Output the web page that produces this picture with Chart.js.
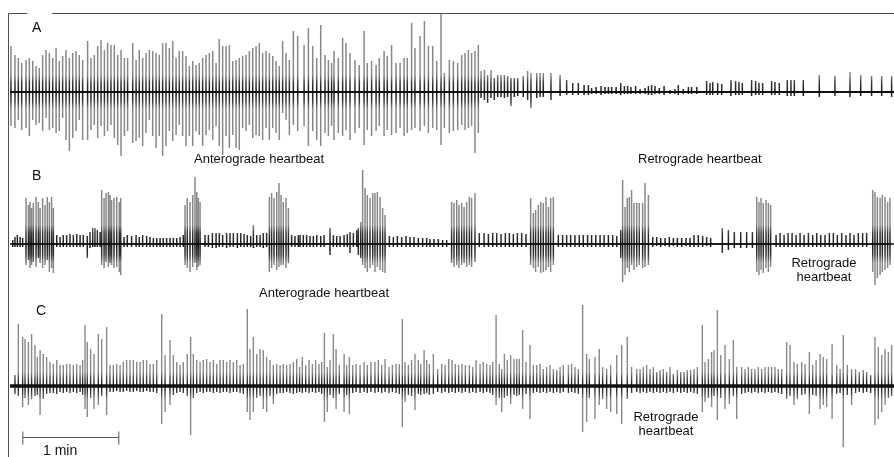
<!DOCTYPE html>
<html>
<head>
<meta charset="utf-8">
<script src="https://cdn.jsdelivr.net/npm/chart.js@4/dist/chart.umd.min.js"></script>
<style>
html, body { margin: 0; padding: 0; background: #fff; }
canvas { display: block; }
</style>
</head>
<body>
<canvas id="myChart" width="894" height="457"></canvas>
<script>
// spike times (s) and upward / downward amplitudes (arbitrary units) for each recording
let tA = [0.6,3.1,5.2,7.3,10.0,12.1,14.2,16.3,18.3,20.4,22.5,24.6,26.7,28.8,30.8,32.9,35.0,37.1,39.2,41.3,
  43.3,45.4,48.5,50.6,52.7,54.8,56.9,59.0,61.0,63.1,65.2,67.3,69.4,71.5,73.5,76.7,78.8,80.8,82.9,85.0,
  87.1,89.2,91.3,93.3,95.4,97.5,99.6,101.7,103.8,105.8,107.9,110.0,112.1,114.2,116.3,118.3,120.4,122.5,124.6,126.7,
  128.8,130.8,132.9,135.0,137.1,139.2,141.3,143.3,145.4,147.5,149.6,151.7,153.8,155.8,157.9,160.0,162.1,164.2,166.3,168.3,
  170.4,172.5,174.6,177.1,179.8,
  183.8,186.5,189.2,191.7,194.2,196.9,199.0,201.0,202.5,205.2,207.9,210.0,212.5,215.6,218.3,221.3,223.3,226.0,228.8,230.8,
  233.8,235.8,238.5,241.3,243.8,246.3,248.3,251.0,253.1,256.3,259.0,261.5,264.2,266.7,269.4,271.5,274.6,277.1,279.8,282.3,
  284.4,286.5,288.5,290.6,292.7,
  294.4,296.5,298.5,300.6,302.7,304.8,306.9,309.0,311.0,313.1,315.2,317.3,320.8,323.5,325.6,329.2,331.3,333.3,338.1,343.8,
  347.9,351.7,355.2,358.8,361.5,
  363.5,366.3,369.4,371.9,374.0,376.0,378.8,381.7,384.0,386.0,388.1,391.0,393.8,396.9,399.0,401.0,403.1,405.8,408.8,412.5,
  415.6,417.7,420.8,424.0,426.0,429.2,435.4,437.5,439.2,442.3,444.8,450.6,453.5,455.6,457.7,463.5,466.0,468.1,470.4,476.0,
  478.1,480.8,485.8,488.1,490.2,495.8,505.8,515.6,525.0,531.7,538.5,544.8,551.0];
let upA = [46,37,34,29,32,34,31,26,24,37,42,39,34,44,31,36,42,34,39,41,
  37,32,51,34,37,46,52,42,49,47,47,37,42,34,34,49,32,42,34,39,
  42,41,39,37,49,49,44,51,34,41,41,36,26,31,27,29,34,37,39,41,
  29,53,46,46,47,31,32,34,36,37,41,44,46,49,39,41,39,36,31,26,
  51,39,32,61,56,
  47,64,46,34,67,37,32,29,41,34,54,49,39,32,27,61,29,31,27,34,
  41,36,47,29,29,34,34,69,44,56,71,46,46,31,79,19,32,31,29,37,
  39,42,39,41,47,
  21,22,17,22,14,17,17,17,16,14,14,14,16,21,19,19,19,19,19,17,
  12,9,9,7,7,
  4,5,6,5,5,5,5,9,6,6,5,6,3,4,6,7,6,4,6,2,
  3,7,3,5,5,5,11,9,10,9,8,12,11,10,9,12,11,9,9,11,
  10,9,12,12,12,12,17,16,20,17,16,16,16];
let dnA = [34,36,28,38,36,44,28,33,31,39,26,38,36,41,39,26,48,59,46,39,
  28,48,48,38,33,46,34,44,39,33,46,53,64,44,39,51,49,46,54,41,
  28,44,56,44,64,54,39,49,43,33,44,54,44,54,39,43,54,43,38,48,
  34,54,63,44,56,43,56,58,36,39,33,46,43,44,48,36,48,36,41,48,
  21,28,43,33,39,
  34,54,39,48,54,41,44,34,48,41,44,38,48,41,36,53,38,44,39,34,
  44,38,43,41,36,44,41,38,36,39,34,41,36,38,53,36,41,39,38,33,
  38,36,34,61,41,
  6,8,11,6,8,5,5,6,5,14,5,4,5,8,16,6,5,5,8,4,
  3,3,3,3,3,
  2,2,3,2,2,2,2,3,2,2,2,2,2,2,3,3,2,2,3,2,
  2,3,2,2,2,2,3,3,3,3,3,4,3,3,3,4,3,3,3,3,
  3,3,4,4,4,4,5,4,5,4,4,4,5];

let tB = [1.7,3.1,4.6,6.3,7.9,
  10.0,11.5,12.5,13.5,14.6,16.3,17.7,18.8,20.4,21.9,23.3,24.6,26.0,27.1,
  29.2,31.3,33.3,35.4,37.5,39.6,41.7,43.8,45.8,48.3,50.0,51.7,53.1,54.6,56.3,
  57.3,58.8,60.0,61.5,62.5,63.5,65.0,66.7,68.3,69.2,
  71.3,73.3,76.0,78.8,80.8,82.9,85.4,87.5,89.6,91.7,93.8,95.8,97.9,100.0,102.1,104.2,106.3,108.3,
  109.4,110.8,112.5,114.2,115.6,116.7,117.7,118.8,
  121.9,124.0,126.5,128.8,130.8,132.9,135.4,137.5,139.6,142.1,144.2,146.3,148.3,150.4,152.1,154.2,156.3,158.3,160.4,
  162.1,163.5,165.0,166.7,168.1,169.4,170.8,172.5,174.0,
  176.0,178.1,180.2,
  181.3,183.3,185.4,187.5,189.6,191.7,194.2,196.3,200.0,202.1,204.2,206.3,208.8,210.8,212.5,214.6,216.7,
  217.7,219.2,220.4,221.9,223.3,225.0,226.7,228.1,229.6,231.3,232.9,234.4,
  237.1,239.6,242.1,244.8,247.5,250.0,252.5,255.2,257.9,260.4,262.5,265.0,267.7,270.4,272.9,
  276.0,277.5,279.2,280.6,282.3,283.8,285.4,287.1,288.5,290.6,
  293.3,296.3,299.0,301.7,304.2,306.9,309.6,312.1,314.6,317.1,319.8,322.5,
  325.4,327.1,328.5,330.2,331.7,333.3,335.0,336.5,337.9,339.6,
  342.7,345.4,347.9,350.4,353.1,355.8,358.3,361.0,
  363.5,366.1,368.8,371.3,374.0,376.7,379.2,
  381.7,382.9,384.4,385.8,387.1,388.5,390.0,391.7,393.3,395.4,396.9,399.0,
  401.7,404.2,406.7,409.4,412.1,414.6,417.1,419.8,422.5,425.0,427.5,430.2,432.9,435.4,437.9,
  445.2,449.0,452.7,456.7,460.4,464.0,
  466.7,468.1,469.4,470.8,472.5,474.0,475.4,
  478.8,481.3,483.8,486.3,488.8,491.3,493.8,496.3,499.0,501.7,504.2,506.7,509.4,512.1,514.6,517.1,519.8,522.5,525.0,527.5,530.2,532.9,535.4,
  539.2,540.6,542.1,543.8,545.2,546.9,548.5,550.0];
let upB = [4,7,9,7,6,
  46,39,42,36,41,47,42,36,46,39,47,42,47,36,
  9,7,9,9,10,9,10,9,9,8,12,16,16,14,12,
  54,46,51,52,49,44,46,47,42,46,
  7,9,8,9,7,9,8,7,6,6,6,6,6,6,6,6,7,9,
  39,46,42,49,67,52,46,42,
  9,9,11,11,11,9,11,11,11,11,11,10,9,8,19,9,9,11,11,
  47,51,46,52,61,49,42,46,36,
  9,8,9,
  9,9,9,8,8,9,8,9,16,9,8,8,9,10,12,11,14,
  16,22,74,56,49,46,51,51,52,47,36,29,
  8,7,8,7,8,7,7,6,6,6,5,5,5,4,4,
  42,41,44,39,41,37,42,47,46,51,
  11,11,10,11,11,10,11,11,10,11,11,10,
  46,31,34,39,42,41,47,37,46,47,
  9,9,9,9,9,9,9,9,
  9,9,9,9,9,9,8,
  14,64,37,46,47,54,41,41,41,41,61,49,
  7,7,6,6,7,6,6,6,6,6,9,9,8,7,6,
  16,14,12,12,12,12,
  47,42,46,41,44,41,39,
  9,11,9,11,11,9,11,9,11,9,11,9,9,11,11,9,11,9,11,9,11,11,11,
  54,52,47,46,49,47,42,46];
let dnB = [3,3,3,3,3,
  21,16,24,21,18,23,14,19,24,21,16,28,24,29,
  3,3,3,3,3,3,3,3,3,14,4,3,3,3,3,
  21,24,18,23,19,21,24,23,28,31,
  3,3,3,3,3,3,3,3,3,3,3,3,3,3,3,3,3,3,
  21,24,28,23,19,26,23,21,
  3,3,4,4,3,3,4,3,3,4,3,3,3,3,4,3,3,4,3,
  28,24,21,26,23,21,21,24,19,
  3,3,3,
  3,3,3,3,3,3,3,3,11,3,3,3,3,3,9,3,3,
  11,14,21,24,28,24,21,28,23,26,28,29,
  3,3,3,3,3,3,3,3,3,3,3,3,3,3,3,
  19,23,21,24,21,19,23,21,23,18,
  3,3,3,3,3,3,3,3,3,3,3,3,
  21,24,28,23,29,28,26,23,28,21,
  3,3,3,3,3,3,3,3,
  3,3,3,3,3,3,3,
  14,38,31,24,28,21,26,23,21,24,23,21,
  3,2,3,2,3,2,3,3,2,3,3,3,3,2,3,
  9,6,4,4,4,4,
  28,31,26,29,24,28,23,
  3,3,3,3,3,3,3,3,3,3,3,3,3,3,3,3,3,3,3,3,3,3,3,
  28,41,34,31,28,26,24,21];

let tC = [3.1,5.2,7.9,9.4,11.5,13.5,15.6,17.1,18.8,20.8,22.9,25.0,27.1,29.2,31.3,33.3,35.4,37.5,39.6,41.7,
  43.8,45.4,46.9,48.3,50.4,52.5,55.2,57.3,60.4,62.5,64.6,66.7,68.8,70.8,72.9,75.0,77.1,79.2,81.3,83.3,
  85.4,87.5,89.6,91.7,94.8,96.9,100.0,102.1,104.2,106.3,108.3,110.8,112.9,114.6,116.7,118.8,120.8,122.9,125.0,127.1,
  129.2,131.3,133.3,135.4,137.5,139.6,141.7,143.8,145.8,148.3,150.0,152.1,154.2,156.3,158.3,160.4,162.5,164.6,166.7,168.8,
  170.8,172.9,175.0,177.1,179.2,
  181.0,
  182.7,184.8,186.9,189.0,191.0,193.1,194.8,196.5,198.3,200.0,202.1,203.8,205.8,208.8,210.4,212.1,214.2,216.3,218.8,221.3,
  223.3,225.6,228.1,230.2,232.3,234.4,236.9,239.0,241.3,243.3,245.2,246.9,249.0,251.0,253.1,255.2,256.7,258.8,260.4,262.1,
  264.6,267.3,269.8,271.9,274.2,276.3,278.3,280.4,282.5,284.6,287.1,289.2,291.3,293.8,295.8,297.9,300.0,301.7,303.8,305.8,
  307.3,309.0,310.8,312.9,315.0,316.7,318.3,320.4,322.5,325.0,327.1,329.2,331.3,333.3,335.4,337.5,339.6,341.7,343.8,345.8,
  349.0,351.0,353.1,355.2,357.9,360.4,362.1,
  365.6,368.3,370.4,372.9,375.4,379.2,382.3,385.8,388.5,391.7,393.8,395.8,397.9,400.0,402.1,404.2,406.3,408.3,410.4,412.5,
  414.6,417.1,419.2,421.3,423.3,425.4,427.5,429.6,432.7,434.4,436.5,438.5,440.0,442.1,444.2,446.9,449.6,452.1,454.2,457.3,
  459.4,461.5,463.5,465.6,467.7,469.8,471.9,474.0,476.0,478.1,480.2,482.3,485.4,487.5,490.0,492.1,494.8,496.9,499.6,501.7,
  503.8,506.3,508.3,510.4,513.8,516.7,518.8,520.8,523.3,526.0,528.5,530.8,533.3,535.4,537.9,540.6,542.7,544.8,546.9,549.0,
  551.0];
let upC = [11,62,49,47,44,52,41,29,36,32,29,24,22,26,21,21,22,22,21,22,
  21,26,61,44,37,32,52,47,59,21,21,22,21,24,26,26,26,24,24,26,
  26,22,22,26,72,31,46,31,24,21,24,32,49,32,26,24,26,27,24,26,
  22,26,26,24,26,24,26,21,22,77,37,49,32,37,36,29,26,21,22,21,
  22,21,22,24,27,
  19,
  29,21,26,22,26,22,24,53,19,26,52,37,21,32,21,29,21,22,21,24,
  21,24,24,26,21,27,19,21,22,22,67,24,21,26,32,26,22,36,26,22,
  32,17,22,21,27,26,22,21,22,21,21,19,26,22,24,22,21,24,71,22,
  17,32,26,31,27,27,27,56,24,41,21,21,22,17,19,21,17,16,19,21,
  21,22,19,17,81,32,27,
  29,37,19,17,21,31,41,49,19,17,17,19,21,17,19,14,16,17,14,19,
  12,16,14,14,16,16,17,19,61,24,27,34,36,76,31,41,27,46,19,19,
  17,19,17,17,19,17,19,19,19,19,17,17,44,41,24,22,24,22,34,21,
  26,32,29,27,42,21,17,51,21,17,17,14,16,14,11,49,39,31,37,34,
  41];
let dnC = [8,10,21,12,19,13,10,9,29,13,8,7,7,8,6,7,6,7,6,7,
  6,9,23,31,12,23,19,10,29,6,6,5,6,6,5,6,6,5,6,6,
  5,6,6,7,38,26,19,9,7,6,7,10,49,12,7,6,7,6,6,7,
  6,7,6,6,7,6,6,7,8,26,34,26,12,10,23,26,10,18,8,7,
  7,6,7,8,7,
  6,
  7,6,7,6,7,6,8,36,26,9,12,23,8,26,9,28,7,6,7,6,
  7,6,7,6,7,6,7,6,7,8,41,16,9,10,24,8,9,8,7,9,
  8,6,7,6,7,6,7,6,7,6,7,6,7,6,7,6,7,9,19,12,
  26,12,10,18,9,10,9,23,8,33,7,6,7,6,7,6,7,6,7,6,
  7,6,7,8,46,36,12,
  33,19,13,23,26,28,38,13,7,6,7,6,7,6,7,6,7,6,7,6,
  7,6,7,6,7,6,7,8,26,16,12,21,10,34,12,23,18,10,33,8,
  7,6,7,6,7,6,7,6,7,6,7,8,13,10,19,13,9,8,28,9,
  10,23,19,21,33,8,7,61,9,19,7,6,7,6,7,39,33,26,19,12,
  10];

// annotation texts
let panelLabels = ['A', 'B', 'C'];
let noteAntero = 'Anterograde heartbeat';
let noteRetro = 'Retrograde heartbeat';
let scaleText = '1 min';

// layout: vertical offset of each trace baseline, time window and scale bar
const baseA = 365, baseB = 213, baseC = 71;
const tMin = -6.25, tMax = 552.5;
const barStart = 8, barLen = 60, barLevel = 20;

[[tA, upA, dnA], [tB, upB, dnB], [tC, upC, dnC]].forEach(function (s, i) {
    if (s[0].length !== s[1].length || s[0].length !== s[2].length) {
        throw new Error('trace ' + i + ' lengths ' + s[0].length + ' ' + s[1].length + ' ' + s[2].length);
    }
});

function spikes(t, up, dn, base) {
    let pts = [];
    for (let i = 0; i < t.length; i++) {
        pts.push({x: t[i], y: base});
        pts.push({x: t[i], y: base + up[i]});
        pts.push({x: t[i], y: base - dn[i]});
        pts.push({x: t[i], y: base});
    }
    return pts;
}

function baseline(base) {
    return [{x: 0, y: base}, {x: tMax, y: base}];
}

// dark close to the baseline, light grey towards the spike tips
function shade(base, core) {
    return function (context) {
        const chart = context.chart;
        if (!chart.chartArea) return;
        const yp = chart.scales.y.getPixelForValue(base);
        const span = 90;
        const g = chart.ctx.createLinearGradient(0, yp - span, 0, yp + span);
        const f = function (d) { return (span + d) / (2 * span); };
        g.addColorStop(0, 'rgba(120,120,120,0.88)');
        g.addColorStop(f(-core - 8), 'rgba(120,120,120,0.88)');
        g.addColorStop(f(-core), 'rgba(40,40,40,0.92)');
        g.addColorStop(0.5, 'rgba(10,10,10,0.95)');
        g.addColorStop(f(core), 'rgba(40,40,40,0.92)');
        g.addColorStop(f(core + 8), 'rgba(120,120,120,0.88)');
        g.addColorStop(1, 'rgba(120,120,120,0.88)');
        return g;
    };
}

const lineColor = '#111';

let data = {
    datasets: [
        {label: 'A base', data: baseline(baseA), borderColor: lineColor, borderWidth: 2},
        {label: 'B base', data: baseline(baseB), borderColor: lineColor, borderWidth: 1.6},
        {label: 'C base', data: baseline(baseC), borderColor: lineColor, borderWidth: 3.4},
        {label: 'A', data: spikes(tA, upA, dnA, baseA), borderColor: shade(baseA, 9), borderWidth: 1.5},
        {label: 'B', data: spikes(tB, upB, dnB, baseB), borderColor: shade(baseB, 11), borderWidth: 1.5},
        {label: 'C', data: spikes(tC, upC, dnC, baseC), borderColor: shade(baseC, 6), borderWidth: 1.4}
    ]
};

const overlay = {
    id: 'overlay',
    afterDraw(chart) {
        const c = chart.ctx;
        const x = chart.scales.x, y = chart.scales.y;
        c.save();
        // frame
        c.strokeStyle = '#4d4d4d';
        c.lineWidth = 1;
        c.beginPath();
        c.moveTo(8.5, 457); c.lineTo(8.5, 13.5); c.lineTo(27, 13.5);
        c.moveTo(52, 13.5); c.lineTo(894, 13.5);
        c.stroke();
        // scale bar
        const x0 = x.getPixelForValue(barStart), x1 = x.getPixelForValue(barStart + barLen);
        const yb = Math.round(y.getPixelForValue(barLevel)) + 0.5;
        c.strokeStyle = '#555';
        c.beginPath();
        c.moveTo(x0, yb); c.lineTo(x1, yb);
        c.moveTo(x0, yb - 6); c.lineTo(x0, yb + 7);
        c.moveTo(x1, yb - 6); c.lineTo(x1, yb + 7);
        c.stroke();
        // texts
        c.fillStyle = '#111';
        c.textBaseline = 'alphabetic';
        c.textAlign = 'left';
        c.font = '14px "Liberation Sans", Arial, sans-serif';
        c.fillText(panelLabels[0], 32, 32);
        c.fillText(panelLabels[1], 32, 180);
        c.fillText(panelLabels[2], 36, 315);
        c.fillText(scaleText, 43, 455);
        c.font = '13px "Liberation Sans", Arial, sans-serif';
        c.fillText(noteAntero, 194, 163);
        c.fillText(noteRetro, 638, 163);
        c.fillText(noteAntero, 259, 297);
        c.textAlign = 'center';
        const words = noteRetro.split(' ');
        c.fillText(words[0], 824, 267);
        c.fillText(words[1], 824, 281);
        c.fillText(words[0], 666, 421);
        c.fillText(words[1], 666, 435);
        c.restore();
    }
};

const ctx = document.getElementById('myChart');
let myChart = new Chart(ctx, {
    type: 'line',
    data: data,
    options: {
        responsive: false,
        animation: false,
        events: [],
        layout: {padding: 0},
        elements: {point: {radius: 0}, line: {tension: 0, fill: false}},
        plugins: {legend: {display: false}, tooltip: {enabled: false}},
        scales: {
            x: {type: 'linear', min: tMin, max: tMax, display: false},
            y: {type: 'linear', min: 0, max: 457, display: false}
        }
    },
    plugins: [overlay]
});
</script>
</body>
</html>
